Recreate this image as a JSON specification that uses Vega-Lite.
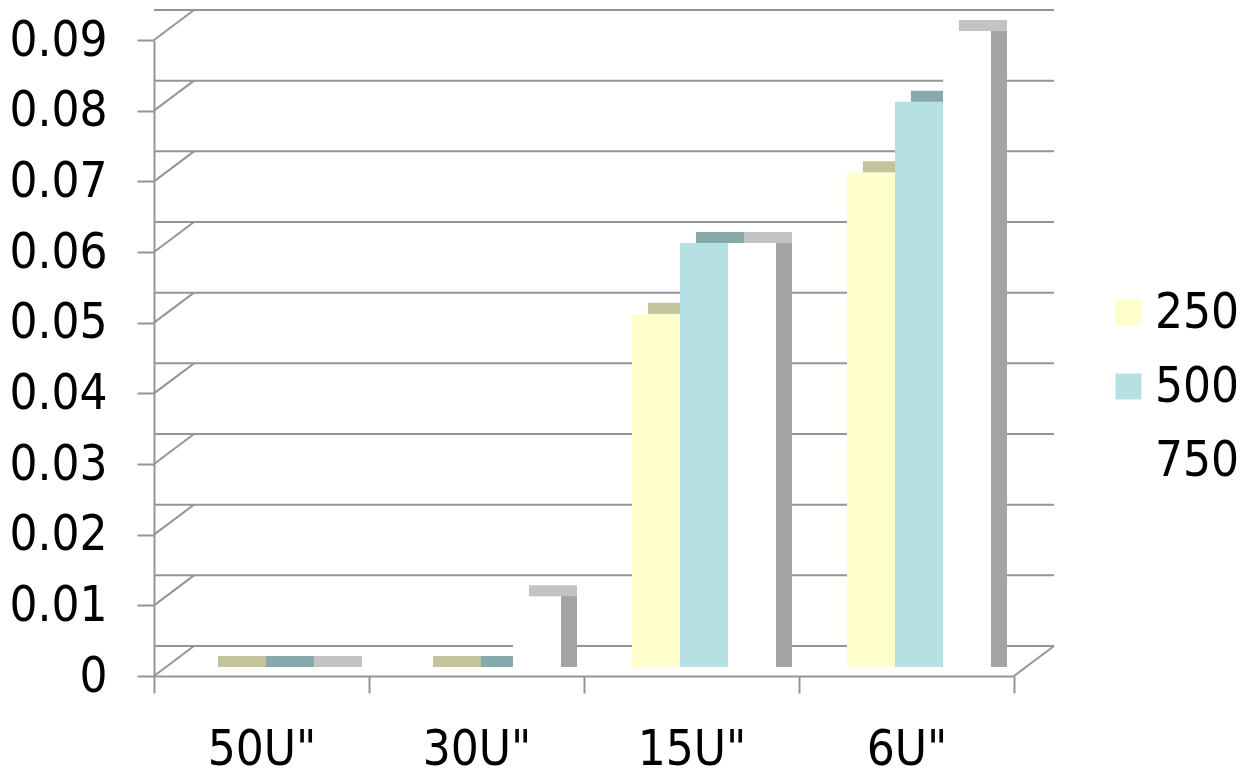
{
  "$schema": "https://vega.github.io/schema/vega-lite/v6.json",
  "autosize": {"type": "none"},
  "padding": {"left": 154, "top": 40, "right": 228, "bottom": 101},
  "width": 860,
  "height": 636,
  "background": "white",
  "config": {
    "view": {"stroke": null},
    "font": "DejaVu Sans Condensed",
    "axis": {
      "grid": false,
      "domainColor": "#959595",
      "domainWidth": 2,
      "tickColor": "#959595",
      "tickWidth": 2,
      "tickSize": 17,
      "labelFont": "DejaVu Sans Condensed",
      "labelFontSize": 49,
      "labelColor": "#000000",
      "title": null
    },
    "axisY": {"labelPadding": 30},
    "axisX": {"labelPadding": 32, "tickBand": "extent", "labelAngle": 0}
  },
  "datasets": {
    "bars": [
      {"size": "50U\"", "series": "250", "value": 0},
      {"size": "50U\"", "series": "500", "value": 0},
      {"size": "50U\"", "series": "750", "value": 0},
      {"size": "30U\"", "series": "250", "value": 0},
      {"size": "30U\"", "series": "500", "value": 0},
      {"size": "30U\"", "series": "750", "value": 0.01},
      {"size": "15U\"", "series": "250", "value": 0.05},
      {"size": "15U\"", "series": "500", "value": 0.06},
      {"size": "15U\"", "series": "750", "value": 0.06},
      {"size": "6U\"", "series": "250", "value": 0.07},
      {"size": "6U\"", "series": "500", "value": 0.08},
      {"size": "6U\"", "series": "750", "value": 0.09}
    ],
    "grid": [
      {"v": 0}, {"v": 0.01}, {"v": 0.02}, {"v": 0.03}, {"v": 0.04},
      {"v": 0.05}, {"v": 0.06}, {"v": 0.07}, {"v": 0.08}, {"v": 0.09}
    ],
    "floor": [{"v": 0}]
  },
  "layer": [
    {
      "data": {"name": "grid"},
      "mark": {"type": "rule", "color": "#959595", "strokeWidth": 2, "xOffset": 40, "x2Offset": 40, "yOffset": -30},
      "encoding": {
        "y": {
          "field": "v", "type": "quantitative",
          "scale": {"domain": [0, 0.09], "nice": false, "zero": false},
          "axis": {"values": [0, 0.01, 0.02, 0.03, 0.04, 0.05, 0.06, 0.07, 0.08, 0.09], "format": "~g", "title": null}
        }
      }
    },
    {
      "data": {"name": "grid"},
      "mark": {"type": "rule", "color": "#959595", "strokeWidth": 2, "y2Offset": -30},
      "encoding": {
        "x": {"value": 0},
        "x2": {"value": 40},
        "y": {"field": "v", "type": "quantitative", "title": null},
        "y2": {"field": "v"}
      }
    },
    {
      "data": {"name": "floor"},
      "mark": {"type": "rule", "color": "#959595", "strokeWidth": 2, "y2Offset": -30},
      "encoding": {
        "x": {"value": 860},
        "x2": {"value": 900},
        "y": {"field": "v", "type": "quantitative", "title": null},
        "y2": {"field": "v"}
      }
    },
    {
      "data": {"name": "bars"},
      "mark": {"type": "bar", "yOffset": -20, "y2Offset": -9},
      "encoding": {
        "x": {"field": "size", "type": "nominal", "sort": ["50U\"", "30U\"", "15U\"", "6U\""], "scale": {"paddingInner": 0, "paddingOuter": 0}, "title": null},
        "xOffset": {"field": "series", "type": "nominal", "scale": {"domain": ["250", "500", "750"], "paddingInner": 0, "paddingOuter": 0.7396, "align": 0.901}},
        "y": {"field": "value", "type": "quantitative", "title": null},
        "y2": {"datum": 0},
        "color": {"field": "series", "type": "nominal", "scale": {"domain": ["250", "500", "750"], "range": ["#C4C49C", "#86A9A9", "#C3C3C3"]}, "legend": null}
      }
    },
    {
      "data": {"name": "bars"},
      "mark": {"type": "bar", "color": "#A4A4A4", "yOffset": -9, "y2Offset": -9},
      "encoding": {
        "x": {"field": "size", "type": "nominal", "sort": ["50U\"", "30U\"", "15U\"", "6U\""], "title": null},
        "xOffset": {"field": "series", "type": "nominal", "scale": {"domain": ["250", "500", "750"], "paddingInner": 0, "paddingOuter": 0.7396, "align": 0.901}},
        "y": {"field": "value", "type": "quantitative", "title": null},
        "y2": {"datum": 0}
      }
    },
    {
      "data": {"name": "bars"},
      "mark": {"type": "bar", "yOffset": -9, "y2Offset": -9},
      "encoding": {
        "x": {"field": "size", "type": "nominal", "sort": ["50U\"", "30U\"", "15U\"", "6U\""], "title": null},
        "xOffset": {"field": "series", "type": "nominal", "scale": {"domain": ["250", "500", "750"], "paddingInner": 0, "paddingOuter": 0.7396, "align": 0.676}},
        "y": {"field": "value", "type": "quantitative", "title": null},
        "y2": {"datum": 0},
        "color": {
          "field": "series", "type": "nominal",
          "scale": {"domain": ["250", "500", "750"], "range": ["#FFFFCC", "#B6E1E4", "#FFFFFF"]},
          "legend": {
            "orient": "none", "legendX": 950, "legendY": 248, "title": null, "padding": 0,
            "symbolType": "square", "symbolSize": 676, "symbolStrokeWidth": 0,
            "labelFont": "DejaVu Sans Condensed", "labelFontSize": 49, "labelColor": "#000000",
            "labelOffset": 2, "rowPadding": 24
          }
        }
      }
    }
  ],
  "resolve": {"scale": {"color": "independent", "xOffset": "independent"}}
}
